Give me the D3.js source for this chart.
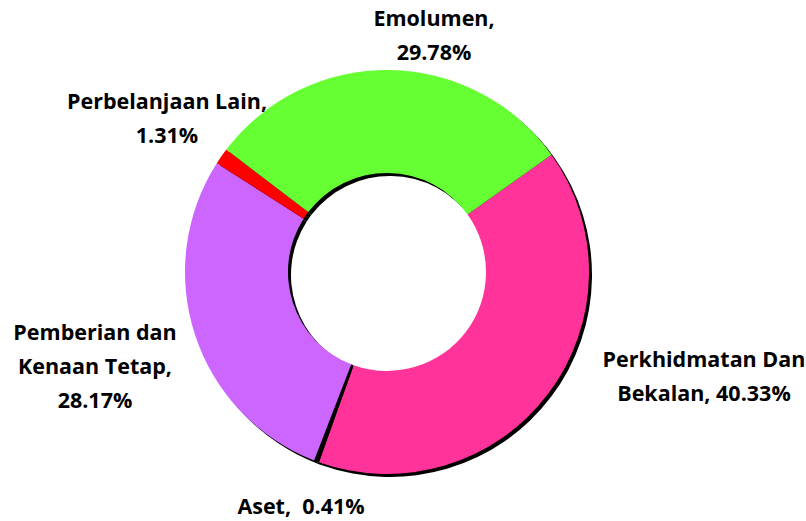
<!DOCTYPE html>
<html>
<head>
<meta charset="utf-8">
<script src="https://cdn.jsdelivr.net/npm/d3@7"></script>
<style>
  body { margin: 0; background: #fff; }
  text { font-family: "Open Sans", sans-serif; font-weight: bold; fill: #000; white-space: pre; }
</style>
</head>
<body>
<div id="donut"></div>
<script>
// slice order, clockwise from the pink slice
const categories = ["Perkhidmatan Dan Bekalan", "Aset", "Pemberian dan Kenaan Tetap", "Perbelanjaan Lain", "Emolumen"];
const values = [40.33, 0.41, 28.17, 1.31, 29.78];
const colors = ["#FF3399", "#000000", "#CC66FF", "#FF0000", "#66FF33"];
// label lines as shown on the chart
const labelLines = [
  ["Perkhidmatan Dan", "Bekalan, 40.33%"],
  ["Aset,  0.41%"],
  ["Pemberian dan", "Kenaan Tetap,", "28.17%"],
  ["Perbelanjaan Lain,", "1.31%"],
  ["Emolumen,", "29.78%"]
];

const full_width = 806;
const full_height = 521;
const cx = 387, cy = 272;
const outerR = 202, innerR = 99;
const startDeg = 54.5;

// where each label block sits (x center, first baseline)
const labelPos = [
  [704, 367],
  [301, 514],
  [95, 340],
  [167, 109],
  [434, 26]
];
const lineStep = 34;

const svg = d3.select('#donut')
  .append('svg')
    .attr('width', full_width)
    .attr('height', full_height);

const pie = d3.pie()
  .sort(null)
  .value(d => d)
  .startAngle(startDeg * Math.PI / 180)
  .endAngle((startDeg + 360) * Math.PI / 180);

const arcs = pie(values);
const arc = d3.arc().innerRadius(innerR).outerRadius(outerR);

// drop shadow behind the ring
svg.append('g')
  .attr('transform', 'translate(' + (cx + 3) + ',' + (cy + 3) + ')')
  .selectAll('path')
  .data(arcs)
  .enter()
  .append('path')
    .attr('d', arc)
    .attr('fill', '#000');

svg.append('g')
  .attr('transform', 'translate(' + cx + ',' + cy + ')')
  .selectAll('path')
  .data(arcs)
  .enter()
  .append('path')
    .attr('d', arc)
    .attr('fill', (d, i) => colors[i]);

const labels = svg.append('g')
  .selectAll('text')
  .data(arcs)
  .enter()
  .append('text')
    .attr('text-anchor', 'middle')
    .attr('font-size', '21.5px')
    .attr('x', (d, i) => labelPos[i][0])
    .attr('y', (d, i) => labelPos[i][1]);

labels.selectAll('tspan')
  .data((d, i) => labelLines[i].map((t, j) => ({t, j, i})))
  .enter()
  .append('tspan')
    .attr('x', d => labelPos[d.i][0])
    .attr('y', d => labelPos[d.i][1] + d.j * lineStep)
    .text(d => d.t);
</script>
</body>
</html>
